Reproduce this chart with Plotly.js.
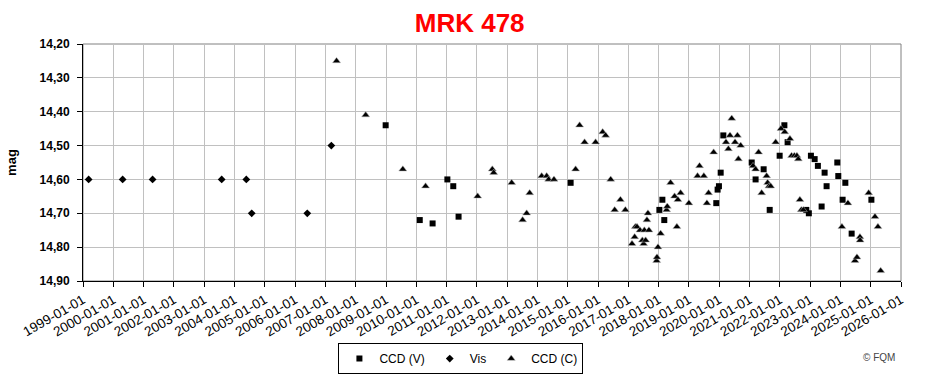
<!DOCTYPE html>
<html>
<head>
<meta charset="utf-8">
<script src="https://cdn.plot.ly/plotly-3.0.1.min.js"></script>
<style>
html,body{margin:0;padding:0;background:#fff;}
#chart{width:930px;height:384px;}
</style>
</head>
<body>
<div id="chart"></div>
<script>
// CCD (V) observations
const ccdVDates = ["2008-12-28","2010-02-12","2010-07-17","2011-01-11","2011-03-23","2011-05-26","2015-02-05",
  "2018-01-10","2018-02-15","2018-03-10","2019-11-27","2019-12-13","2019-12-29","2020-01-19","2020-02-20",
  "2021-01-27","2021-03-15","2021-06-20","2021-09-01","2021-12-30","2022-02-25","2022-04-05","2022-11-16",
  "2022-12-17","2023-01-11","2023-02-25","2023-04-05","2023-05-20","2023-06-25","2023-07-19","2023-11-25",
  "2023-12-07","2024-01-28","2024-03-01","2024-05-16","2025-01-09"];
const ccdVMags = [14.44,14.72,14.73,14.60,14.62,14.71,14.61,
  14.69,14.66,14.72,14.67,14.63,14.62,14.58,14.47,
  14.55,14.60,14.57,14.69,14.53,14.44,14.49,14.69,
  14.70,14.53,14.54,14.56,14.68,14.58,14.62,14.55,
  14.59,14.66,14.61,14.76,14.66];

// Visual observations
const visDates = ["1999-03-10","2000-04-23","2001-04-19","2003-07-31","2004-05-23","2004-07-27","2006-05-28","2007-03-14"];
const visMags = [14.60,14.60,14.60,14.60,14.60,14.70,14.70,14.50];

// CCD (C) observations
const ccdCDates = ["2007-05-16","2008-05-01","2009-07-23","2010-04-23","2012-01-11","2012-07-06","2012-07-22",
  "2013-02-24","2013-07-06","2013-08-24","2013-09-29","2014-02-21","2014-04-22","2014-05-16","2014-07-19",
  "2015-04-06","2015-05-24","2015-07-23","2015-12-03","2016-02-26","2016-04-02","2016-06-02","2016-07-20",
  "2016-09-27","2016-11-26","2017-02-14","2017-03-18","2017-03-26","2017-04-15","2017-05-21","2017-06-19",
  "2017-07-04","2017-07-13","2017-07-28","2017-08-13","2017-08-25","2017-09-06","2017-12-08","2017-12-12",
  "2017-12-24","2018-01-25","2018-04-07","2018-04-15","2018-05-25","2018-07-12","2018-08-09","2018-08-21",
  "2018-09-23","2019-01-01","2019-04-15","2019-05-09","2019-06-30","2019-08-06","2019-08-26","2019-10-26",
  "2020-03-23","2020-04-21","2020-05-10","2020-05-31","2020-07-10","2020-08-08","2020-08-20","2020-09-16",
  "2021-02-12","2021-03-15","2021-04-20","2021-05-27","2021-07-26","2021-08-07","2021-08-23","2021-09-13",
  "2021-11-12","2022-01-15","2022-03-01","2022-05-03","2022-05-23","2022-06-25","2022-07-26","2022-08-12",
  "2022-08-31","2022-09-17","2022-10-11","2024-01-20","2024-04-01","2024-06-25","2024-07-19","2024-08-24",
  "2024-08-26","2024-12-07","2025-02-21","2025-03-29","2025-05-01"];
const ccdCMags = [14.25,14.41,14.57,14.62,14.65,14.57,14.58,
  14.61,14.72,14.70,14.64,14.59,14.59,14.60,14.60,
  14.57,14.44,14.49,14.49,14.46,14.47,14.60,14.69,
  14.66,14.69,14.79,14.77,14.74,14.74,14.75,14.78,
  14.79,14.75,14.78,14.72,14.70,14.75,14.84,14.83,
  14.80,14.76,14.69,14.68,14.61,14.65,14.74,14.66,
  14.64,14.67,14.59,14.56,14.59,14.67,14.64,14.52,
  14.49,14.51,14.47,14.42,14.49,14.47,14.54,14.50,
  14.56,14.57,14.52,14.64,14.59,14.61,14.62,14.62,
  14.49,14.45,14.46,14.48,14.53,14.53,14.53,14.54,
  14.66,14.69,14.69,14.74,14.67,14.84,14.83,14.77,
  14.78,14.64,14.71,14.74,14.87];

// Axis tick labels
const xTickVals = [];
for (let y = 1999; y <= 2026; y++) xTickVals.push(y + "-01-01");
const xTickText = xTickVals.slice();
const yTickVals = [14.2,14.3,14.4,14.5,14.6,14.7,14.8,14.9];
const yTickText = ["14,20","14,30","14,40","14,50","14,60","14,70","14,80","14,90"];

const FONT = "Arial, 'Liberation Sans', sans-serif";

const traces = [
  {x: ccdVDates, y: ccdVMags, name: "CCD (V)", type: "scatter", mode: "markers",
   marker: {symbol: "square", size: 6, color: "#000"}},
  {x: visDates, y: visMags, name: "Vis", type: "scatter", mode: "markers",
   marker: {symbol: "diamond", size: 6, color: "#000"}},
  {x: ccdCDates, y: ccdCMags, name: "CCD (C)", type: "scatter", mode: "markers",
   marker: {symbol: "triangle-up", size: 7, color: "#000", line: {color: "#bbb", width: 0.5}}}
];

const layout = {
  width: 930, height: 384,
  margin: {l: 83, r: 29, t: 44, b: 103, autoexpand: false},
  paper_bgcolor: "#fff", plot_bgcolor: "#fff",
  font: {family: FONT, color: "#000", size: 11},
  title: {text: "<b>MRK 478</b>", font: {family: FONT, size: 26, color: "#ff0000"},
          x: 0.505, xanchor: "center", y: 0.94, yanchor: "middle"},
  showlegend: true,
  legend: {orientation: "h", x: 0.462, xanchor: "center", y: -0.262, yanchor: "top",
           bordercolor: "#000", borderwidth: 1, bgcolor: "#fff",
           font: {family: FONT, size: 12, color: "#000"}, itemwidth: 30},
  xaxis: {
    type: "date", range: ["1999-01-01", "2026-01-01"],
    tickmode: "array", tickvals: xTickVals, ticktext: xTickText,
    tickangle: -30, tickfont: {family: FONT, size: 13.5, color: "#000"},
    showgrid: true, gridcolor: "#c0c0c0", gridwidth: 1,
    showline: true, linecolor: "#000", linewidth: 1,
    ticks: "outside", ticklen: 5, tickcolor: "#000",
    zeroline: false, fixedrange: true, automargin: false
  },
  yaxis: {
    range: [14.9, 14.2],
    tickmode: "array", tickvals: yTickVals, ticktext: yTickText,
    tickfont: {family: FONT, size: 12, color: "#000", weight: "bold"},
    ticklabelstandoff: 5,
    showgrid: true, gridcolor: "#c0c0c0", gridwidth: 1,
    showline: true, linecolor: "#000", linewidth: 1,
    ticks: "outside", ticklen: 5, tickcolor: "#000",
    zeroline: false, fixedrange: true, automargin: false,
    title: {text: "<b>mag</b>", font: {family: FONT, size: 13, color: "#000"}, standoff: 20}
  },
  shapes: [
    {type: "rect", xref: "paper", yref: "paper", x0: 0, x1: 1, y0: 0, y1: 1,
     line: {color: "#808080", width: 1}, layer: "below"}
  ],
  annotations: [
    {text: "© FQM", xref: "paper", yref: "paper", x: 0.995, y: -0.322,
     xanchor: "right", yanchor: "middle", showarrow: false,
     font: {family: FONT, size: 10, color: "#444"}}
  ]
};

Plotly.newPlot("chart", traces, layout, {displayModeBar: false, staticPlot: true});
</script>
</body>
</html>
